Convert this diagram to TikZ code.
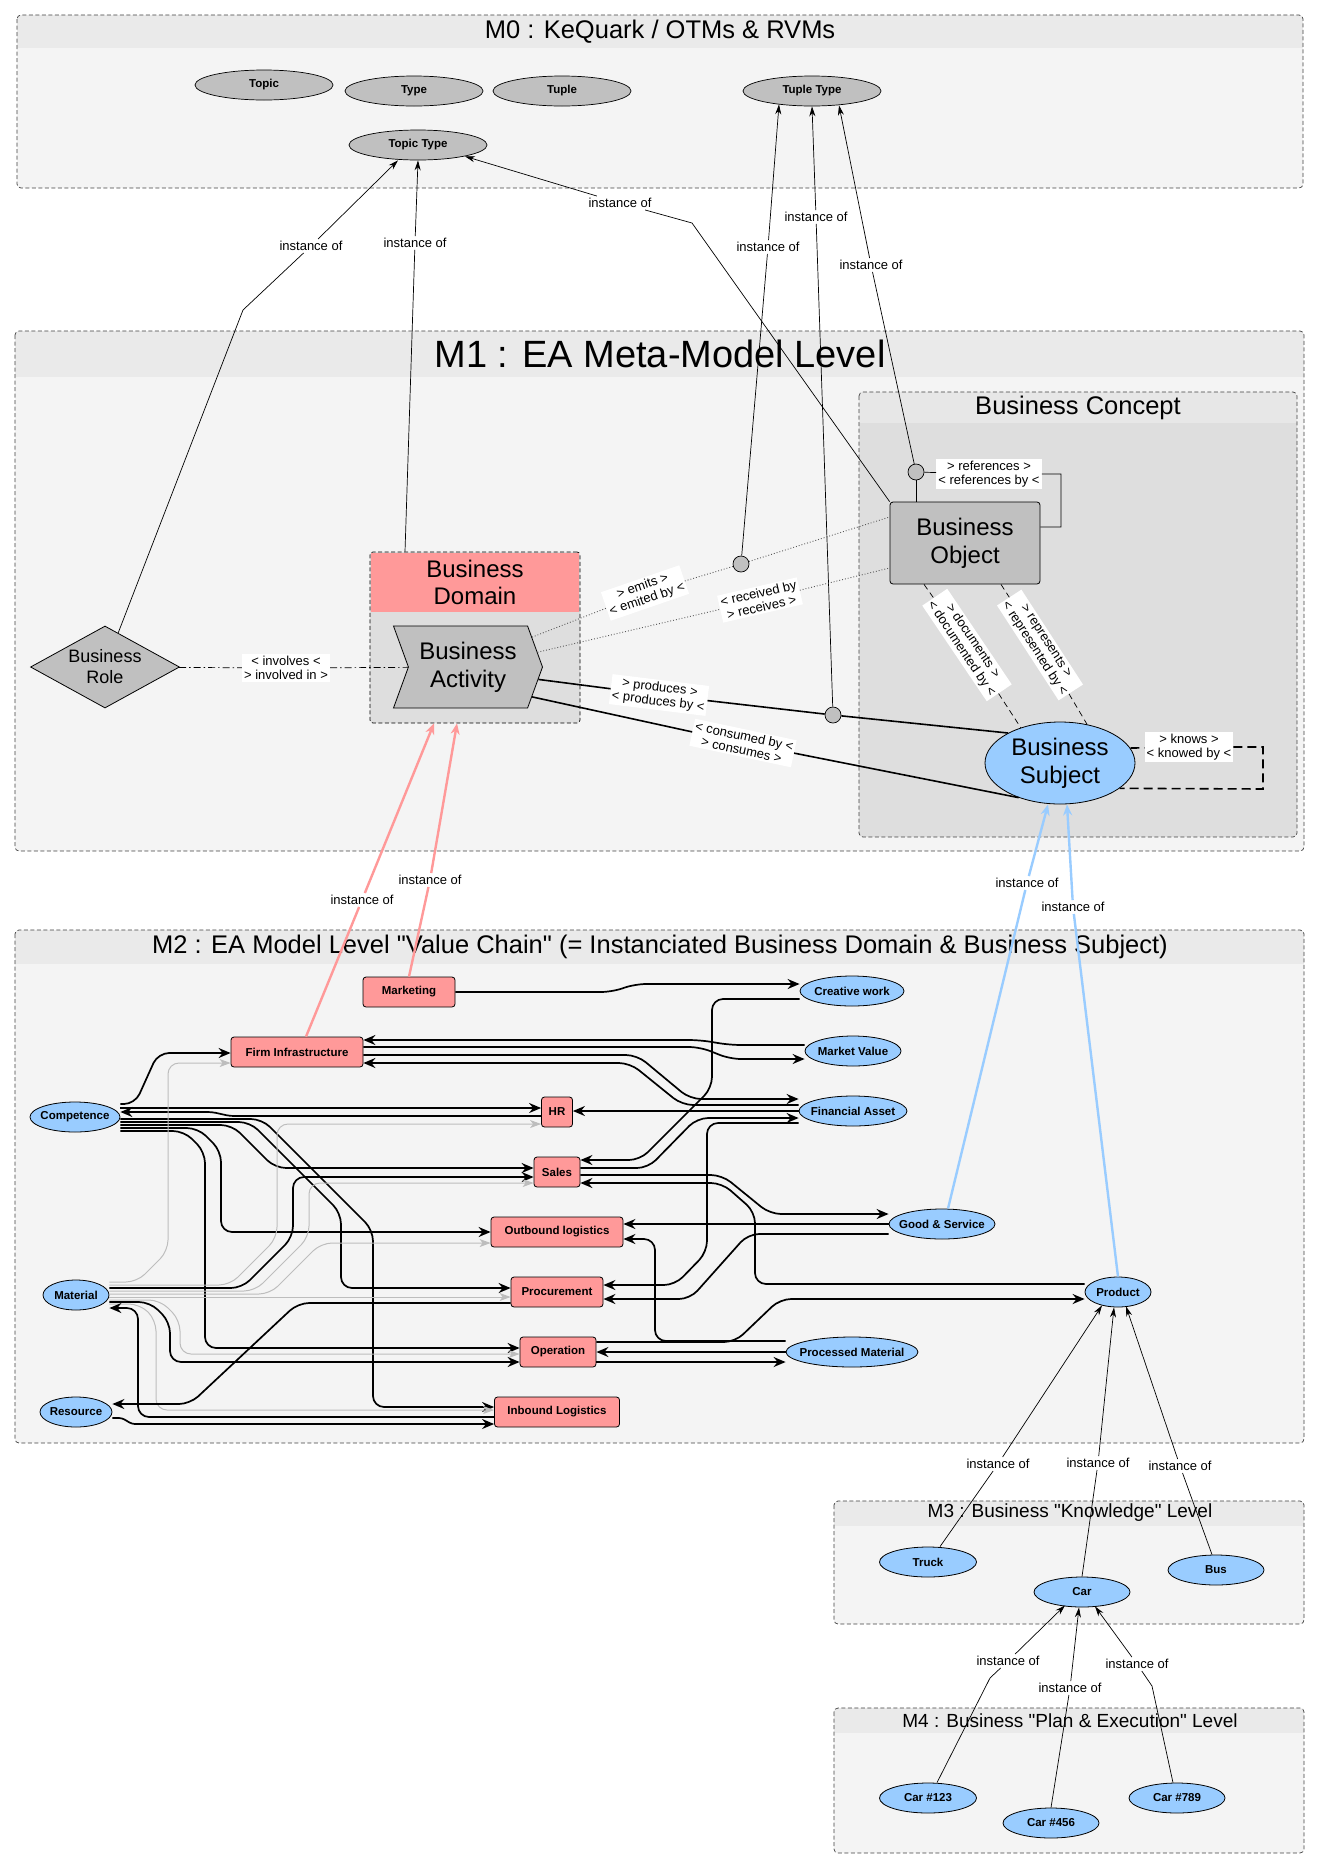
\documentclass[tikz,border=0pt]{standalone}
\usepackage{fontspec}
\setmainfont{Liberation Sans}
\usetikzlibrary{shapes.geometric,shapes.symbols,arrows.meta,positioning}

\definecolor{framebg}{HTML}{F4F4F4}
\definecolor{bandbg}{HTML}{EAEAEA}
\definecolor{conceptbg}{HTML}{DEDEDE}
\definecolor{conceptband}{HTML}{E7E7E7}
\definecolor{metagray}{HTML}{C0C0C0}
\definecolor{domainpink}{HTML}{FF9999}
\definecolor{subjblue}{HTML}{99CCFF}
\definecolor{grayline}{HTML}{BDBDBD}

\tikzstyle{frame} = [draw=black!75, dash pattern=on 4pt off 2.5pt, line width=0.7pt, rounded corners=4pt]
\tikzstyle{leveltitle} = [inner sep=0pt, font=\fontsize{25.5}{28}\selectfont]
\tikzstyle{meta} = [ellipse, draw, line width=0.7pt, fill=metagray, inner sep=0pt, minimum width=138pt, minimum height=30pt, font=\bfseries\fontsize{11.5}{13}\selectfont]
\tikzstyle{thing} = [ellipse, draw, line width=0.8pt, fill=subjblue, inner xsep=-10pt, inner ysep=0pt, minimum height=30pt, font=\bfseries\fontsize{11.5}{13}\selectfont]
\tikzstyle{stage} = [rectangle, draw, line width=0.8pt, fill=domainpink, rounded corners=3pt, inner sep=0pt, minimum height=30pt, font=\bfseries\fontsize{11.5}{13}\selectfont]
\tikzstyle{concept} = [draw, line width=0.8pt, align=center, inner sep=0pt, minimum width=150pt, minimum height=82pt, font=\fontsize{24}{28}\selectfont]
\tikzstyle{lbl} = [fill=white, inner sep=2pt, align=center, font=\fontsize{13}{14}\selectfont]
\tikzstyle{inst} = [draw, line width=0.7pt, -{Stealth[length=10pt,width=6pt]}]
\tikzstyle{pinkinst} = [draw=domainpink, line width=2.4pt, -{Stealth[length=11pt,width=9pt]}]
\tikzstyle{blueinst} = [draw=subjblue, line width=2.4pt, -{Stealth[length=11pt,width=9pt]}]
\tikzstyle{flow} = [draw, line width=1.7pt, rounded corners=11pt, -{Stealth[length=12pt,width=10pt,inset=4pt]}]
\tikzstyle{ghost} = [draw=grayline, line width=1pt, rounded corners=11pt, -{Stealth[length=11pt,width=8pt,inset=3pt]}]
\tikzstyle{knob} = [circle, draw, line width=0.7pt, fill=metagray, inner sep=0pt, minimum size=16pt]

\newcommand{\levelframe}[7]{%
  \begin{scope}
    \clip[rounded corners=4pt] (#1,#2) rectangle (#3,#4);
    \fill[#6] (#1,#2) rectangle (#3,#4);
    \fill[#7] (#1,#2) rectangle (#3,#5);
  \end{scope}
  \draw[frame] (#1,#2) rectangle (#3,#4);}

\begin{document}
\begin{tikzpicture}[x=1pt, y=-1pt]
    \fill[white] (0,0) rectangle (1320,1869);
    \useasboundingbox (0,0) rectangle (1320,1869);

    % Levels
    \levelframe{17}{15}{1303}{188}{48}{framebg}{bandbg}
    \levelframe{15}{331}{1304}{851}{377}{framebg}{bandbg}
    \levelframe{859}{392}{1297}{837}{423}{conceptbg}{conceptband}
    \levelframe{15}{930}{1304}{1443}{964}{framebg}{bandbg}
    \levelframe{834}{1501}{1304}{1624}{1526}{framebg}{bandbg}
    \levelframe{834}{1708}{1304}{1853}{1733}{framebg}{bandbg}

    \node[leveltitle] (mzero) at (660,32) {M0 : KeQuark / OTMs \& RVMs};
    \node[leveltitle, font=\fontsize{38}{40}\selectfont] (mone) at (660,354) {M1 : EA Meta-Model Level};
    \node[leveltitle] (concepttitle) at (1078,408) {Business Concept};
    \node[leveltitle] (mtwo) at (660,947) {M2 : EA Model Level \textquotedbl Value Chain\textquotedbl{} (= Instanciated Business Domain \& Business Subject)};
    \node[leveltitle, font=\fontsize{19}{21}\selectfont] (mthree) at (1070,1513) {M3 : Business \textquotedbl Knowledge\textquotedbl{} Level};
    \node[leveltitle, font=\fontsize{19}{21}\selectfont] (mfour) at (1070,1721) {M4 : Business \textquotedbl Plan \& Execution\textquotedbl{} Level};

    % Place nodes
    \node[meta] (topic) at (264,85) {Topic};
    \node[meta] (type) at (414,91) {Type};
    \node[meta] (tuple) at (562,91) {Tuple};
    \node[meta] (tupletype) at (812,91) {Tuple Type};
    \node[meta] (topictype) at (418,145) {Topic Type};

    \node[draw, dash pattern=on 4pt off 2.5pt, line width=0.7pt, fill=conceptbg, rounded corners=3pt, minimum width=210pt, minimum height=171pt] (domain) at (475,637.5) {};
    \fill[domainpink] (371,553) rectangle (579,612);
    \node[align=center, font=\fontsize{24}{27}\selectfont] (domaintitle) at (475,582) {Business\\Domain};
    \node[concept, signal, signal from=west, signal to=east, signal pointer angle=140, fill=metagray, minimum width=149pt] (activity) at (468,667) {Business\\Activity};
    \node[concept, diamond, aspect=1.8, fill=metagray, minimum width=149pt, font=\fontsize{18}{21}\selectfont] (role) at (105,667) {Business\\Role};
    \node[concept, rounded corners=3pt, fill=metagray] (object) at (965,543) {Business\\Object};
    \node[concept, ellipse, fill=subjblue] (subject) at (1060,763) {Business\\Subject};

    \node[knob] (refknob) at (916,472) {};
    \node[knob] (emitknob) at (741,564) {};
    \node[knob] (prodknob) at (833,715) {};

    \node[lbl] (invlbl) at (286,668) {< involves <\\> involved in >};
    \node[lbl, rotate=19] (emitlbl) at (645,593) {> emits >\\< emited by <};
    \node[lbl, rotate=13] (recvlbl) at (760,600) {< received by\\> receives >};
    \node[lbl, rotate=-7] (prodlbl) at (659,695) {> produces >\\< produces by <};
    \node[lbl, rotate=-12] (conslbl) at (743,743) {< consumed by <\\> consumes >};
    \node[lbl] (reflbl) at (989,474) {> references >\\< references by <};
    \node[lbl, rotate=-56] (doclbl) at (967,645) {> documents >\\< documented by <};
    \node[lbl, rotate=-57] (replbl) at (1040,645) {> represents >\\< represented by <};
    \node[lbl] (knowslbl) at (1189,747) {> knows >\\< knowed by <};

    \node[stage, minimum width=92pt] (marketing) at (409,992) {Marketing};
    \node[stage, minimum width=132pt] (firm) at (297,1052) {Firm Infrastructure};
    \node[stage, minimum width=31pt] (hr) at (557,1112) {HR};
    \node[stage, minimum width=46pt] (sales) at (557,1172) {Sales};
    \node[stage, minimum width=132pt] (outbound) at (557,1232) {Outbound logistics};
    \node[stage, minimum width=92pt] (procurement) at (557,1292) {Procurement};
    \node[stage, minimum width=76pt] (operation) at (558,1352) {Operation};
    \node[stage, minimum width=125pt] (inbound) at (557,1412) {Inbound Logistics};
    \node[thing, minimum width=90pt] (competence) at (75,1117) {Competence};
    \node[thing, minimum width=66pt] (material) at (76,1295) {Material};
    \node[thing, minimum width=72pt] (resource) at (76,1412) {Resource};
    \node[thing, minimum width=104pt] (creative) at (852,991) {Creative work};
    \node[thing, minimum width=96pt] (market) at (853,1051) {Market Value};
    \node[thing, minimum width=108pt] (financial) at (853,1111) {Financial Asset};
    \node[thing, minimum width=106pt] (goods) at (942,1224) {Good \& Service};
    \node[thing, minimum width=132pt] (processed) at (852,1352) {Processed Material};
    \node[thing, minimum width=66pt] (product) at (1118,1292) {Product};

    \node[thing, minimum width=97pt] (truck) at (928,1562) {Truck};
    \node[thing, minimum width=96pt] (car) at (1082,1592) {Car};
    \node[thing, minimum width=96pt] (bus) at (1216,1570) {Bus};
    \node[thing, minimum width=97pt] (car123) at (928,1798) {Car \#123};
    \node[thing, minimum width=96pt] (car456) at (1051,1823) {Car \#456};
    \node[thing, minimum width=96pt] (car789) at (1177,1798) {Car \#789};

    \node[lbl] (irole) at (311,246) {instance of};
    \node[lbl] (idomain) at (415,243) {instance of};
    \node[lbl] (iobject) at (620,203) {instance of};
    \node[lbl] (iemit) at (768,247) {instance of};
    \node[lbl] (iprod) at (816,217) {instance of};
    \node[lbl] (iref) at (871,265) {instance of};
    \node[lbl] (ifirm) at (362,900) {instance of};
    \node[lbl] (imarketing) at (430,880) {instance of};
    \node[lbl] (igoods) at (1027,883) {instance of};
    \node[lbl] (iproduct) at (1073,907) {instance of};
    \node[lbl] (itruck) at (998,1464) {instance of};
    \node[lbl] (icar) at (1098,1463) {instance of};
    \node[lbl] (ibus) at (1180,1466) {instance of};
    \node[lbl] (icar123) at (1008,1661) {instance of};
    \node[lbl] (icar456) at (1070,1688) {instance of};
    \node[lbl] (icar789) at (1137,1664) {instance of};

    \coordinate (rolebend) at (243,310);
    \coordinate (objectbend) at (692,223);
    \coordinate (refa) at (1061,474);
    \coordinate (refb) at (1061,527);
    \coordinate (knowsa) at (1263,747);
    \coordinate (knowsb) at (1263,789);
    \coordinate (car123bend) at (990,1678);
    \coordinate (car789bend) at (1152,1686);

    % Draw edges
    \path[inst] (role) -- (rolebend) -- (irole) -- ([xshift=-20pt]topictype.south);
    \path[inst] ([xshift=-70pt]domain.north) -- (idomain) -- (topictype.south);
    \path[inst] (object.north west) -- (objectbend) -- (iobject) -- ([xshift=47pt,yshift=4pt]topictype.south);
    \path[inst] (emitknob) -- (iemit) -- ([xshift=-33pt,yshift=2pt]tupletype.south);
    \path[inst] (prodknob) -- (iprod) -- (tupletype.south);
    \path[inst] (refknob) -- (iref) -- ([xshift=27pt,yshift=1pt]tupletype.south);

    \draw[dash pattern=on 7pt off 3pt on 1.5pt off 3pt, line width=0.7pt] (role) -- (invlbl) -- (activity);
    \draw[dotted, line width=0.9pt, black!65] (activity.25) -- (emitlbl) -- (emitknob) -- ([yshift=26pt]object.west);
    \draw[dotted, line width=0.9pt, black!65] (activity.12) -- (recvlbl) -- ([yshift=-25pt]object.west);
    \draw[line width=1.6pt] (activity.-10) -- (prodlbl) -- (prodknob) -- (subject.150);
    \draw[line width=1.6pt] (activity.-25) -- (conslbl) -- (subject.-140);
    \draw[dash pattern=on 6pt off 4pt, line width=0.7pt] ([xshift=-41pt]object.south) -- (doclbl) -- (subject.138);
    \draw[dash pattern=on 6pt off 4pt, line width=0.7pt] ([xshift=36pt]object.south) -- (replbl) -- (subject.55);
    \draw[line width=0.7pt] (refknob) -- (refknob |- object.north);
    \draw[line width=0.7pt] (refknob) -- (reflbl) -- (refa) -- (refb) -- ([yshift=16pt]object.east);
    \draw[dash pattern=on 9pt off 5pt, line width=1.6pt] (subject.12) -- (knowslbl) -- (knowsa) -- (knowsb) -- (subject.-23);

    \path[pinkinst] ([xshift=9pt]firm.north) -- (ifirm) -- ([xshift=-41pt]domain.south);
    \path[pinkinst] (marketing.north) -- (imarketing) -- ([xshift=-18pt]domain.south);
    \path[blueinst] ([xshift=6pt]goods.north) -- (igoods) -- ([xshift=-12pt]subject.south);
    \path[blueinst] (product.north) -- (iproduct) -- ([xshift=7pt]subject.south);

    \path[inst] ([xshift=12pt]truck.north) -- (itruck) -- ([xshift=-16pt,yshift=2pt]product.south);
    \path[inst] (car.north) -- (icar) -- ([xshift=-4pt]product.south);
    \path[inst] ([xshift=-4pt]bus.north) -- (ibus) -- ([xshift=8pt,yshift=1pt]product.south);
    \path[inst] ([xshift=9pt]car123.north) -- (car123bend) -- (icar123) -- ([xshift=-17pt,yshift=2pt]car.south);
    \path[inst] (car456.north) -- (icar456) -- ([xshift=-3pt]car.south);
    \path[inst] ([xshift=-4pt]car789.north) -- (car789bend) -- (icar789) -- ([xshift=13pt,yshift=1pt]car.south);

    % value chain
    \path[flow] ([yshift=13pt]competence.east) -- (135,1104) -- (158,1053) -- ([yshift=-1pt]firm.west);
    \path[flow] ([yshift=9pt]competence.east) -- ([yshift=4pt]hr.west);
    \path[flow, rounded corners=4pt] ([yshift=-4pt]hr.west) -- (230,1116) -- (212,1112) -- ([yshift=5pt]competence.east);
    \path[flow] ([yshift=-2pt]competence.east) -- (262,1119) -- (373,1230) -- (373,1407) -- ([yshift=5pt]inbound.west);
    \path[flow] ([yshift=-5pt]competence.east) -- (250,1122) -- (341,1213) -- (341,1288) -- ([yshift=4pt]procurement.west);
    \path[flow] ([yshift=-8pt]competence.east) -- (232,1125) -- (275,1168) -- ([yshift=4pt]sales.west);
    \path[flow] ([yshift=-11pt]competence.east) -- (198,1128) -- (221,1151) -- (221,1232) -- (outbound.west);
    \path[flow] ([yshift=-14pt]competence.east) -- (184,1131) -- (205,1152) -- (205,1348) -- ([yshift=4pt]operation.west);

    \path[flow] ([yshift=6pt]market.west) -- (730,1045) -- (700,1040) -- ([yshift=12pt]firm.east);
    \path[flow] ([yshift=5pt]firm.east) -- (700,1047) -- (730,1059) -- ([yshift=-8pt]market.west);
    \path[flow] ([yshift=-3pt]firm.east) -- (637,1055) -- (690,1099) -- ([yshift=12pt]financial.west);
    \path[flow] ([yshift=6pt]financial.west) -- (682,1105) -- (630,1063) -- ([yshift=-11pt]firm.east);
    \path[flow] (financial.west) -- (financial.west -| hr.east);

    \path[flow] (marketing.east) -- (612,992) -- (635,984) -- ([yshift=7pt]creative.west);
    \path[flow] ([yshift=-8pt]creative.west) -- (712,999) -- (712,1088) -- (640,1160) -- ([yshift=12pt]sales.east);
    \path[flow] ([yshift=4pt]sales.east) -- (648,1168) -- (697,1118) -- ([yshift=-7pt]financial.west);
    \path[flow] ([yshift=-12pt]financial.west) -- (707,1123) -- (707,1252) -- (675,1285) -- ([yshift=7pt]procurement.east);
    \path[flow] ([yshift=-3pt]sales.east) -- (722,1175) -- (770,1214) -- ([yshift=10pt]goods.west);
    \path[flow] ([yshift=8pt]product.west) -- (755,1284) -- (755,1212) -- (722,1183) -- ([yshift=-11pt]sales.east);

    \path[flow] (goods.west) -- (goods.west -| outbound.east);
    \path[flow] ([yshift=-10pt]goods.west) -- (748,1234) -- (690,1299) -- ([yshift=-7pt]procurement.east);
    \path[flow] ([yshift=11pt]processed.west) -- (655,1341) -- (655,1239) -- ([yshift=-7pt]outbound.east);
    \path[flow] ([yshift=10pt]operation.east) -- (735,1342) -- (780,1299) -- ([yshift=-7pt]product.west);
    \path[flow] (processed.west) -- (processed.west -| operation.east);
    \path[flow] ([yshift=-10pt]operation.east) -- ([yshift=-10pt]operation.east -| processed.west);

    \path[ghost] ([yshift=13pt]material.east) -- (137,1282) -- (168,1251) -- (168,1063) -- ([yshift=-11pt]firm.west);
    \path[ghost] ([yshift=10pt]material.east) -- (230,1285) -- (277,1238) -- (277,1124) -- ([yshift=-12pt]hr.west);
    \path[flow] ([yshift=7pt]material.east) -- (242,1288) -- (293,1237) -- (293,1177) -- ([yshift=-5pt]sales.west);
    \path[ghost] ([yshift=4pt]material.east) -- (255,1291) -- (309,1237) -- (309,1183) -- ([yshift=-11pt]sales.west);
    \path[ghost] ([yshift=1pt]material.east) -- (270,1294) -- (321,1243) -- ([yshift=-11pt]outbound.west);
    \path[ghost] ([yshift=-2pt]material.east) -- ([yshift=-5pt]procurement.west);
    \path[ghost] ([yshift=-5pt]material.east) -- (160,1300) -- (180,1320) -- (180,1354) -- ([yshift=-2pt]operation.west);
    \path[flow] ([yshift=-7pt]material.east) -- (150,1302) -- (170,1322) -- (170,1362) -- ([yshift=-10pt]operation.west);
    \path[ghost] ([yshift=-9pt]material.east) -- (140,1304) -- (156,1320) -- (156,1410) -- ([yshift=2pt]inbound.west);
    \path[flow] ([yshift=-5pt]inbound.west) -- (138,1417) -- (138,1308) -- ([yshift=-13pt]material.east);
    \path[flow] ([yshift=-11pt]procurement.west) -- (298,1303) -- (190,1404) -- ([yshift=8pt]resource.east);
    \path[flow, rounded corners=3pt] ([yshift=-6pt]resource.east) -- (122,1418) -- (132,1424) -- ([yshift=-12pt]inbound.west);

\end{tikzpicture}
\end{document}
